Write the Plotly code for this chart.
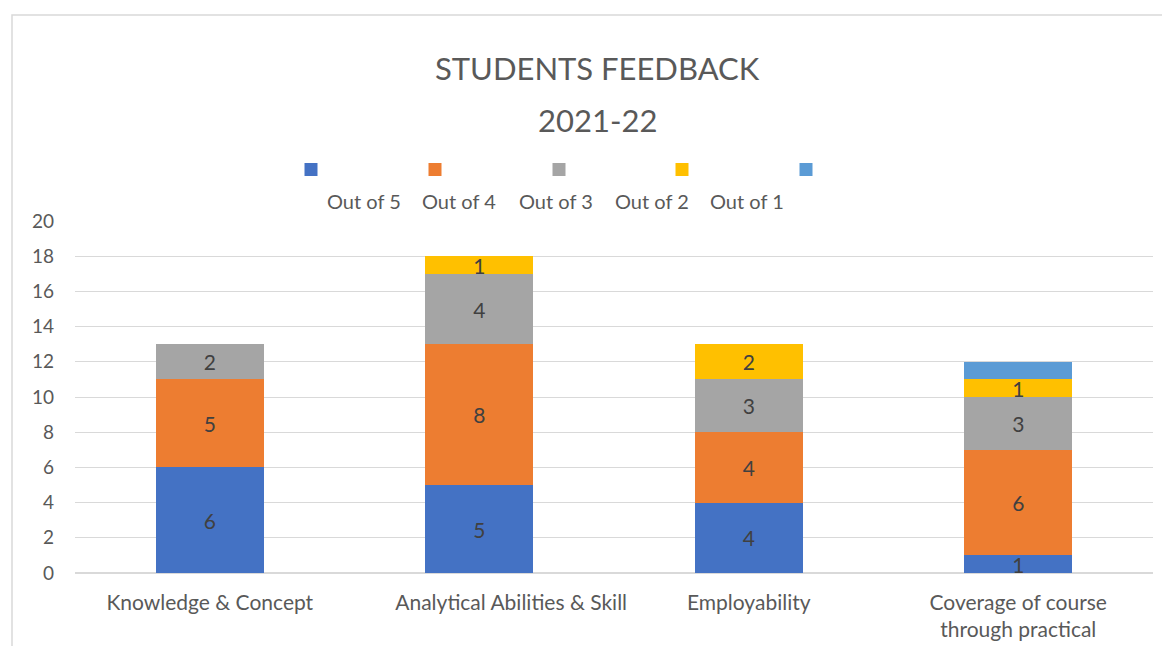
import plotly.graph_objects as go

categories = ["Knowledge & Concept", "Analytical Abilities & Skill", "Employability",
              "Coverage of course<br>through practical"]
# Excel nudged the second label to the right; mimic with leading non-breaking spaces
tick_labels = ["Knowledge & Concept", "&nbsp;" * 12 + "Analytical Abilities & Skill",
               "Employability", "Coverage of course<br>through practical"]
series_names = ["Out of 5", "Out of 4", "Out of 3", "Out of 2", "Out of 1"]
out_of_5 = [6, 5, 4, 1]
out_of_4 = [5, 8, 4, 6]
out_of_3 = [2, 4, 3, 3]
out_of_2 = [0, 1, 2, 1]
out_of_1 = [0, 0, 0, 1]
series_values = [out_of_5, out_of_4, out_of_3, out_of_2, out_of_1]
show_labels = [True, True, True, True, False]
colors = ["#4472C4", "#ED7D31", "#A5A5A5", "#FFC000", "#5B9BD5"]
y_ticks = list(range(0, 21, 2))

FONT = "Lato"
OFF = 8  # page body margin
W, H = 1154, 638
L, R, T, B = 67, 9, 213, 73
PW, PH = W - L - R, H - T - B

def px(x):  # page x -> paper
    return (x - OFF - L) / PW

def py(y):  # page y -> paper
    return (H - B - (y - OFF)) / PH

fig = go.Figure()
for name, vals, col, show in zip(series_names, series_values, colors, show_labels):
    texts = [str(v) if (show and v > 0) else "" for v in vals]
    fig.add_trace(go.Bar(
        x=categories, y=vals, name=name, marker=dict(color=col, line=dict(width=0)),
        text=texts, textposition="inside", insidetextanchor="middle",
        constraintext="none", textangle=0,
        textfont=dict(family=FONT, size=21, color="#404040"),
        showlegend=False,
    ))

fig.update_layout(
    barmode="stack", bargap=0.6,
    width=W, height=H,
    margin=dict(l=L, r=R, t=T, b=B, autoexpand=False),
    paper_bgcolor="white", plot_bgcolor="white",
    font=dict(family=FONT, color="#595959"),
)
fig.update_yaxes(range=[0, 20], tickvals=y_ticks, showgrid=True, gridcolor="#D9D9D9",
                 gridwidth=1, zeroline=True, zerolinecolor="#D9D9D9",
                 tickfont=dict(family=FONT, size=19, color="#595959"),
                 ticklabelstandoff=20, showline=False, automargin=False)
fig.update_xaxes(tickfont=dict(family=FONT, size=21, color="#595959"),
                 tickvals=categories, ticktext=tick_labels,
                 showline=False, ticklabelstandoff=15, automargin=False)

# title
fig.add_annotation(text="STUDENTS FEEDBACK", x=px(597), y=py(68), xref="paper", yref="paper",
                   showarrow=False, font=dict(family=FONT, size=31, color="#595959"),
                   xanchor="center", yanchor="middle")
fig.add_annotation(text="2021-22", x=px(597), y=py(120), xref="paper", yref="paper",
                   showarrow=False, font=dict(family=FONT, size=31, color="#595959"),
                   xanchor="center", yanchor="middle")

# legend (markers above labels)
sq_x = [311, 435, 559, 682, 806]
lab_x = [364, 459, 556, 652, 747]
for name, col, sx, lx in zip(series_names, colors, sq_x, lab_x):
    fig.add_shape(type="rect", xref="paper", yref="paper",
                  x0=px(sx - 6.5), x1=px(sx + 6.5), y0=py(176), y1=py(163),
                  fillcolor=col, line=dict(width=0))
    fig.add_annotation(text=name, x=px(lx), y=py(201), xref="paper", yref="paper",
                       showarrow=False, font=dict(family=FONT, size=20, color="#595959"),
                       xanchor="center", yanchor="middle")

# chart border
fig.add_shape(type="rect", xref="paper", yref="paper",
              x0=px(12), x1=px(1200), y0=py(700), y1=py(15),
              line=dict(color="#D9D9D9", width=1.5), fillcolor="rgba(0,0,0,0)", layer="below")

fig.write_html("out.html")
